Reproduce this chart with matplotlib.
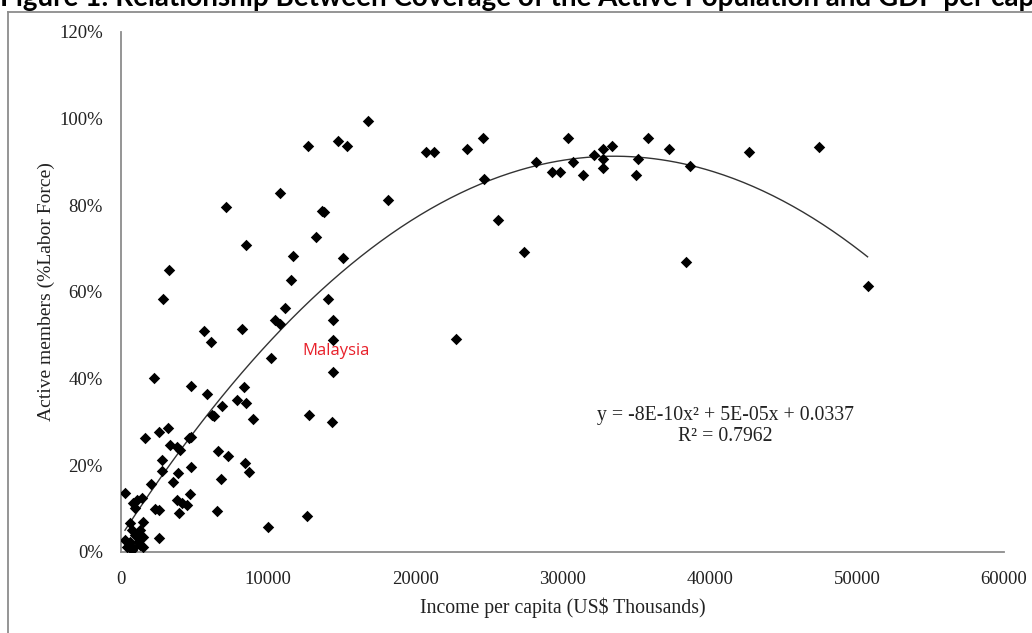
import matplotlib
matplotlib.use("Agg")
import matplotlib.pyplot as plt
import numpy as np
from matplotlib.lines import Line2D
from matplotlib.ticker import PercentFormatter, MultipleLocator

# income per capita (US$) and active members (share of labor force)
income = [
    16790, 12720, 14750, 15370, 20740, 21280, 23530, 24610, 30390, 24680,
    28220, 29310, 29850, 30730, 31410, 32160, 32780, 32780, 32780, 33380,
    35840, 35150, 35020, 37260, 38630, 38410, 42640, 47400, 50730, 25630,
    27400, 22780,
    18160, 10810, 7140, 13670, 13800, 8500, 13260, 11700, 15100, 11560,
    3260, 2860, 14070, 11150, 10470, 10810, 14420, 14420, 14420, 5650,
    6120, 8220, 10200, 2240, 4760, 8370,
    5850, 7890, 8500, 6870, 6180, 6330, 8970, 12780, 14350, 1640,
    2590, 3190, 3330, 3810, 4010, 4630, 4760, 6600, 7270, 8440,
    8700, 2790, 2790, 3880, 4760, 3540, 6800, 2040, 270, 1090,
    1420, 820, 950, 3810, 4150, 4490, 4690, 2310, 2590, 3940,
    6530, 9990, 12650, 2590, 620, 1500, 750, 1290, 950, 1500,
    270, 620, 1150, 400, 820, 1500, 1290, 750,
]
active = [
    0.994, 0.936, 0.948, 0.936, 0.922, 0.922, 0.929, 0.955, 0.955, 0.860,
    0.901, 0.876, 0.876, 0.899, 0.869, 0.915, 0.931, 0.908, 0.887, 0.938,
    0.955, 0.908, 0.869, 0.929, 0.890, 0.670, 0.924, 0.934, 0.614, 0.765,
    0.693, 0.491,
    0.813, 0.829, 0.795, 0.788, 0.785, 0.709, 0.728, 0.684, 0.679, 0.628,
    0.651, 0.584, 0.584, 0.563, 0.535, 0.526, 0.535, 0.489, 0.415, 0.510,
    0.484, 0.514, 0.447, 0.401, 0.382, 0.380,
    0.364, 0.350, 0.343, 0.338, 0.317, 0.313, 0.308, 0.317, 0.299, 0.264,
    0.276, 0.287, 0.246, 0.243, 0.236, 0.264, 0.266, 0.234, 0.222, 0.206,
    0.185, 0.213, 0.188, 0.183, 0.197, 0.162, 0.169, 0.158, 0.137, 0.120,
    0.125, 0.114, 0.102, 0.120, 0.114, 0.109, 0.134, 0.100, 0.097, 0.090,
    0.095, 0.058, 0.083, 0.032, 0.067, 0.070, 0.051, 0.051, 0.039, 0.035,
    0.028, 0.023, 0.023, 0.012, 0.009, 0.012, 0.016, 0.005,
]

title = "Figure 1: Relationship Between Coverage of the Active Population and GDP per capita"
equation = "y = -8E-10x\u00b2 + 5E-05x + 0.0337\nR\u00b2 = 0.7962"

W, H = 1032, 633
fig = plt.figure(figsize=(W / 100, H / 100), dpi=100)
ax = fig.add_axes([121 / W, 1 - 552 / H, (1004 - 121) / W, (552 - 32) / H])

x = np.array(income, dtype=float)
y = np.array(active, dtype=float)
ax.scatter(x, y, marker="D", s=34, color="black", zorder=3, linewidths=0)

# polynomial trend line (order 2) as in the spreadsheet
coef = np.polyfit(x, y, 2)
xs = np.linspace(x.min(), x.max(), 300)
ax.plot(xs, np.polyval(coef, xs), color="#333333", lw=1.0, zorder=2)

ax.set_xlim(0, 60000)
ax.set_ylim(0, 1.2)
ax.xaxis.set_major_locator(MultipleLocator(10000))
ax.yaxis.set_major_locator(MultipleLocator(0.2))
ax.yaxis.set_major_formatter(PercentFormatter(1.0, decimals=0))

serif = "Liberation Serif"
for s in ["top", "right"]:
    ax.spines[s].set_visible(False)
for s in ["left", "bottom"]:
    ax.spines[s].set_color("#8c8c8c")
    ax.spines[s].set_linewidth(1.3)
ax.tick_params(length=0, labelsize=13.5, colors="#222222")
ax.tick_params(axis="x", pad=13.5)
ax.tick_params(axis="y", pad=13)
for lab in ax.get_xticklabels() + ax.get_yticklabels():
    lab.set_fontfamily(serif)

ax.set_xlabel("Income per capita (US$ Thousands)", fontfamily=serif,
              fontsize=14.2, color="#222222", labelpad=7)
ax.set_ylabel("Active members (%Labor Force)", fontfamily=serif,
              fontsize=14, color="#222222", labelpad=3)

ax.text(12300, 0.463, "Malaysia", color="#e8202a", fontfamily="Open Sans",
        fontsize=12, va="center", ha="left")
ax.text(0.703, 1 - 426 / H, equation, transform=fig.transFigure, ha="center",
        va="center", fontfamily=serif, fontsize=14.2, color="#222222",
        linespacing=1.1)

# title clipped at the top edge, as in the screenshot
fig.text(0.0, 1 - 6 / H, title, ha="left", va="baseline", fontfamily="Lato",
         fontweight="bold", fontsize=20)

# outer frame of the chart object
fig.add_artist(Line2D([8 / W, 8 / W], [0, 1 - 12 / H], transform=fig.transFigure,
                      color="#8c8c8c", lw=1.3))
fig.add_artist(Line2D([8 / W, 1], [1 - 12 / H, 1 - 12 / H], transform=fig.transFigure,
                      color="#8c8c8c", lw=1.3))

fig.savefig("out.png", dpi=100)
